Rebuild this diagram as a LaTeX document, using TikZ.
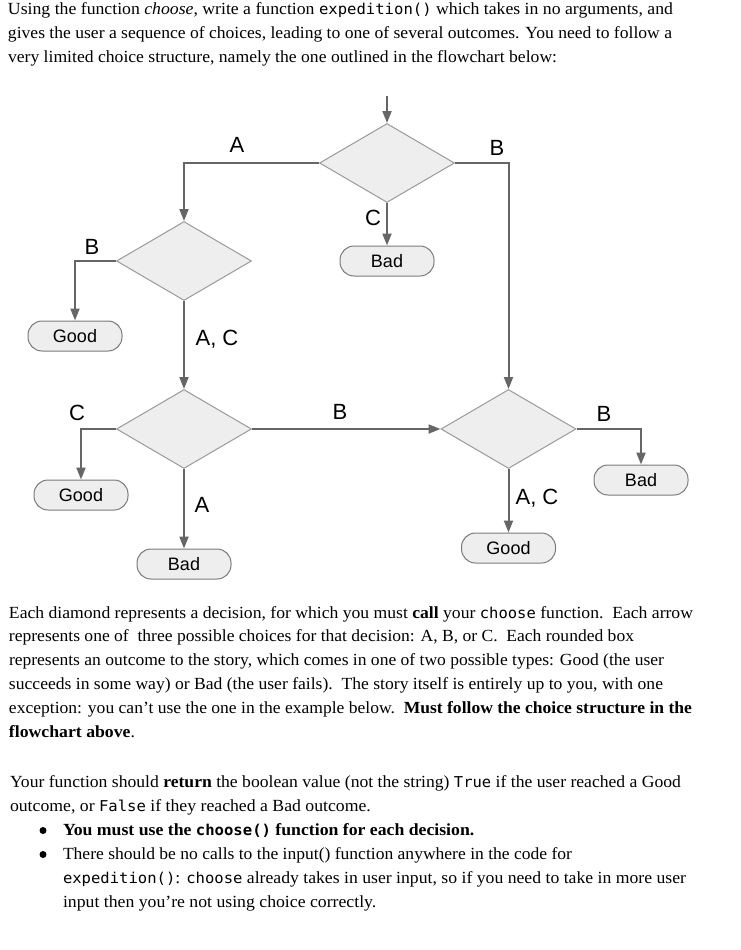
\documentclass[tikz,border=0pt]{standalone}
\usepackage{fontspec}
\usepackage{graphicx}
\setmainfont{Liberation Serif}
\setmonofont{DejaVu Sans Mono}[Scale=0.88]
\newfontfamily\arialf{Liberation Sans}
\usetikzlibrary{shapes.geometric,arrows.meta}
\definecolor{linegray}{HTML}{666666}
\definecolor{diagray}{HTML}{9A9A9A}
\definecolor{boxgray}{HTML}{7A7A7A}
\definecolor{boxfill}{HTML}{EEEEEE}
\newcommand\txtfont{\fontsize{17}{20}\selectfont}
\newcommand\fitline[2]{\resizebox{#1pt}{\height}{#2}}
\newlength\mylen
\newcommand\LineOne{Using the function \textit{choose}, write a function \texttt{expedition()} which takes in no arguments, and}
\begin{document}
\settowidth\mylen{\txtfont\LineOne}%
\pgfmathsetmacro\hfac{665/\mylen}%
\begin{tikzpicture}[x=1pt,y=-1pt,
  txt/.style={anchor=base west, inner sep=0pt, outer sep=0pt, font=\txtfont},
  dia/.style={diamond, draw=diagray, fill=boxfill, line width=1pt, minimum width=135pt, minimum height=79pt, inner sep=0pt},
  outc/.style={rectangle, rounded corners=14pt, draw=boxgray, fill=boxfill, line width=1pt, minimum width=94pt, minimum height=30pt, inner sep=0pt, font=\arialf\fontsize{18}{20}\selectfont},
  conn/.style={draw=linegray, line width=2pt, -{Triangle[length=12pt,width=9pt]}},
  lab/.style={inner sep=0pt, font=\arialf\fontsize{22}{24}\selectfont},
  bul/.style={circle, fill=black, inner sep=0pt, minimum size=7pt}
]
\useasboundingbox (0,0) rectangle (740,950);

% ---- top text ----
\node[txt] (t1) at (8,15) {\fitline{665}{\LineOne}};
\node[txt] (t2) at (8,39) {\fitline{664}{gives the user a sequence of choices, leading to one of several outcomes. You need to follow a}};
\node[txt] (t3) at (8,63) {\fitline{549}{very limited choice structure, namely the one outlined in the flowchart below:}};

% ---- flowchart ----
\node[dia] (D1) at (387,163) {};
\node[dia] (D2) at (184,261) {};
\node[dia] (D3) at (184,429) {};
\node[dia] (D4) at (508.5,429) {};
\node[outc] (Bad1) at (387,261) {Bad};
\node[outc] (Good1) at (75,336) {Good};
\node[outc] (Good2) at (81,495) {Good};
\node[outc] (Bad2) at (184,564) {Bad};
\node[outc] (Bad3) at (641,480) {Bad};
\node[outc] (Good3) at (508.5,548) {Good};
\coordinate (start) at (387,96);

\draw[conn] (start) -- (D1.north);
\draw[conn] (D1.west) -| (D2.north);
\draw[conn] (D1.east) -| (D4.north);
\draw[conn] (D1.south) -- (Bad1.north);
\draw[conn] (D2.west) -| (Good1.north);
\draw[conn] (D2.south) -- (D3.north);
\draw[conn] (D3.west) -| (Good2.north);
\draw[conn] (D3.south) -- (Bad2.north);
\draw[conn] (D3.east) -- (D4.west);
\draw[conn] (D4.east) -| (Bad3.north);
\draw[conn] (D4.south) -- (Good3.north);

\node[lab] (lA1) at (237,145) {A};
\node[lab] (lB1) at (497,148) {B};
\node[lab] (lC1) at (373,218) {C};
\node[lab] (lB2) at (92,247) {B};
\node[lab] (lAC1) at (217,339) {A, C};
\node[lab] (lC3) at (77,413) {C};
\node[lab] (lB3) at (340,412) {B};
\node[lab] (lA3) at (202,505) {A};
\node[lab] (lB4) at (604,414) {B};
\node[lab] (lAC4) at (537,498) {A, C};

% ---- paragraph 2 ----
\node[txt] (p1) at (9,618) {\fitline{684}{Each diamond represents a decision, for which you must \textbf{call} your \texttt{choose} function.\ \ Each arrow}};
\node[txt] (p2) at (9,641.5) {\fitline{625}{represents one of\ \ three possible choices for that decision: A, B, or C.\ \ Each rounded box}};
\node[txt] (p3) at (9,665) {\fitline{655}{represents an outcome to the story, which comes in one of two possible types: Good (the user}};
\node[txt] (p4) at (9,689) {\fitline{654}{succeeds in some way) or Bad (the user fails).\ \ The story itself is entirely up to you, with one}};
\node[txt] (p5) at (9,713) {\fitline{683}{exception: you can’t use the one in the example below.\ \ \textbf{Must follow the choice structure in the}}};
\node[txt] (p6) at (9,737) {\scalebox{\hfac}[1]{\textbf{flowchart above}.}};

% ---- paragraph 3 ----
\node[txt] (q1) at (10,787) {\fitline{671}{Your function should \textbf{return} the boolean value (not the string) \texttt{True} if the user reached a Good}};
\node[txt] (q2) at (10,811) {\scalebox{\hfac}[1]{outcome, or \texttt{False} if they reached a Bad outcome.}};
\node[bul] (b1) at (43,830.5) {};
\node[bul] (b2) at (43,854.5) {};
\node[txt] (q3) at (63,835) {\scalebox{\hfac}[1]{\textbf{You must use the \texttt{choose()} function for each decision.}}};
\node[txt] (q4) at (63,859) {\fitline{509}{There should be no calls to the input() function anywhere in the code for}};
\node[txt] (q5) at (63,883) {\fitline{623}{\texttt{expedition()}: \texttt{choose} already takes in user input, so if you need to take in more user}};
\node[txt] (q6) at (63,907) {\scalebox{\hfac}[1]{input then you’re not using choice correctly.}};
\end{tikzpicture}
\end{document}
